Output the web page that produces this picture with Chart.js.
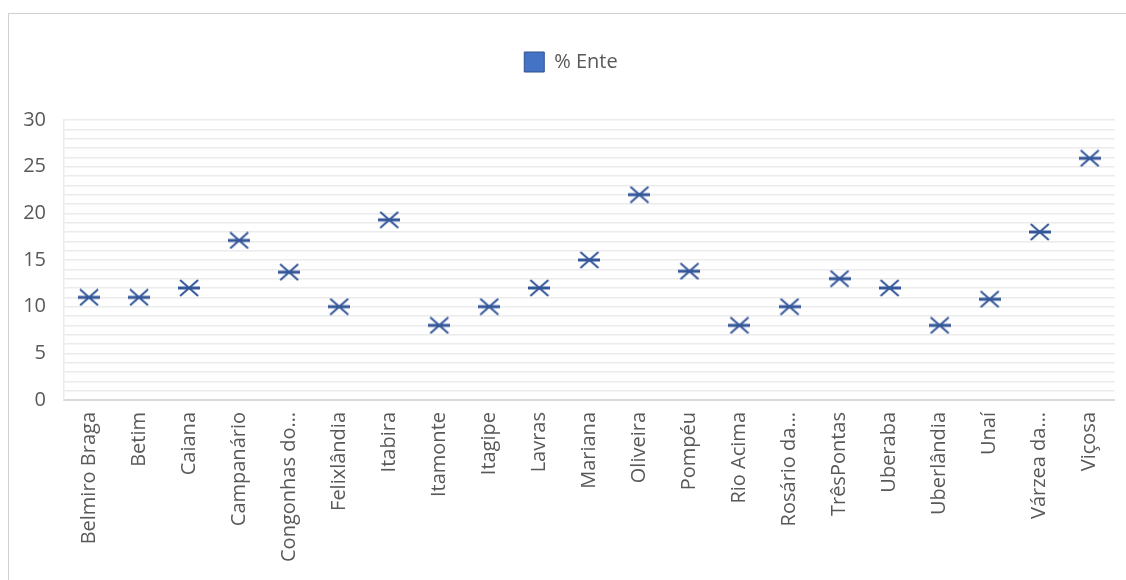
<!DOCTYPE html>
<html>
<head>
<meta charset="utf-8">
<script src="https://cdn.jsdelivr.net/npm/chart.js@4"></script>
<style>
    body { margin: 0; background: #fff; overflow: hidden; }
    #frame { position: absolute; left: 8px; top: 13px; width: 1200px; height: 700px; border-left: 1px solid #D0D0D0; border-top: 1px solid #D0D0D0; }
    #chart { position: absolute; left: 0; top: 0; }
</style>
</head>
<body>
<div id="frame"></div>
<canvas id="chart" width="1126" height="580"></canvas>
<script>
// ===== DATA =====
const cidades = [
    "Belmiro Braga", "Betim", "Caiana", "Campanário", "Congonhas do…",
    "Felixlândia", "Itabira", "Itamonte", "Itagipe", "Lavras", "Mariana",
    "Oliveira", "Pompéu", "Rio Acima", "Rosário da…", "TrêsPontas",
    "Uberaba", "Uberlândia", "Unaí", "Várzea da…", "Viçosa"
];
const percEnte = [
    11, 11, 12, 17.1, 13.7,
    10, 19.3, 8, 10, 12, 15,
    22, 13.8, 8, 10, 13,
    12, 8, 10.8, 18, 25.9
];
const serieNome = "% Ente";
const yTicks = [0, 5, 10, 15, 20, 25, 30];

const textColor = "#595959";
const markerColor = "#34579A";

// marcador: X com traço horizontal
function makeMarker() {
    const c = document.createElement("canvas");
    c.width = 22;
    c.height = 18;
    const g = c.getContext("2d");
    g.strokeStyle = markerColor;
    g.lineWidth = 2;
    g.beginPath();
    g.moveTo(2, 1); g.lineTo(20, 17);
    g.moveTo(20, 1); g.lineTo(2, 17);
    g.stroke();
    g.lineWidth = 3;
    g.beginPath();
    g.moveTo(0, 9); g.lineTo(22, 9);
    g.stroke();
    return c;
}

// ===== CHART =====
const chart = new Chart(document.getElementById("chart"), {
    type: "line",
    data: {
        labels: cidades,
        datasets: [{
            label: serieNome,
            data: percEnte,
            showLine: false,
            pointStyle: makeMarker(),
            pointRadius: 10,
            pointHoverRadius: 10
        }]
    },
    options: {
        responsive: false,
        animation: false,
        layout: { padding: { left: 22, right: 6, top: 0, bottom: 0 } },
        plugins: {
            tooltip: { enabled: false },
            legend: {
                position: "top",
                labels: {
                    boxWidth: 20,
                    boxHeight: 20,
                    padding: 52,
                    color: textColor,
                    font: { family: "Open Sans", size: 20 },
                    generateLabels: () => [{
                        text: serieNome,
                        fillStyle: "#4472C4",
                        strokeStyle: "#2F528F",
                        lineWidth: 1,
                        fontColor: textColor
                    }]
                }
            },
            // espaço vazio entre a legenda e a área do gráfico
            title: {
                display: true,
                text: " ",
                weight: 500,
                font: { size: 10, lineHeight: 1 },
                padding: { top: 0, bottom: 28 }
            }
        },
        scales: {
            x: {
                offset: true,
                grid: { display: false, drawTicks: false },
                border: { color: "#D9D9D9", width: 2 },
                ticks: {
                    autoSkip: false,
                    maxRotation: 90,
                    minRotation: 90,
                    padding: 12,
                    color: textColor,
                    font: { family: "Open Sans", size: 20 }
                },
                afterFit: s => { s.height = 180; }
            },
            y: {
                min: 0,
                max: 30,
                grid: { color: "#EBEBEB", lineWidth: 1.5, drawTicks: false },
                border: { color: "#EBEBEB", width: 1.5 },
                ticks: {
                    stepSize: 1,
                    autoSkip: false,
                    padding: 18,
                    color: textColor,
                    font: { family: "Open Sans", size: 20 },
                    callback: v => yTicks.includes(v) ? v : ""
                },
                afterFit: s => { s.width = 42; }
            }
        }
    }
});
</script>
</body>
</html>
